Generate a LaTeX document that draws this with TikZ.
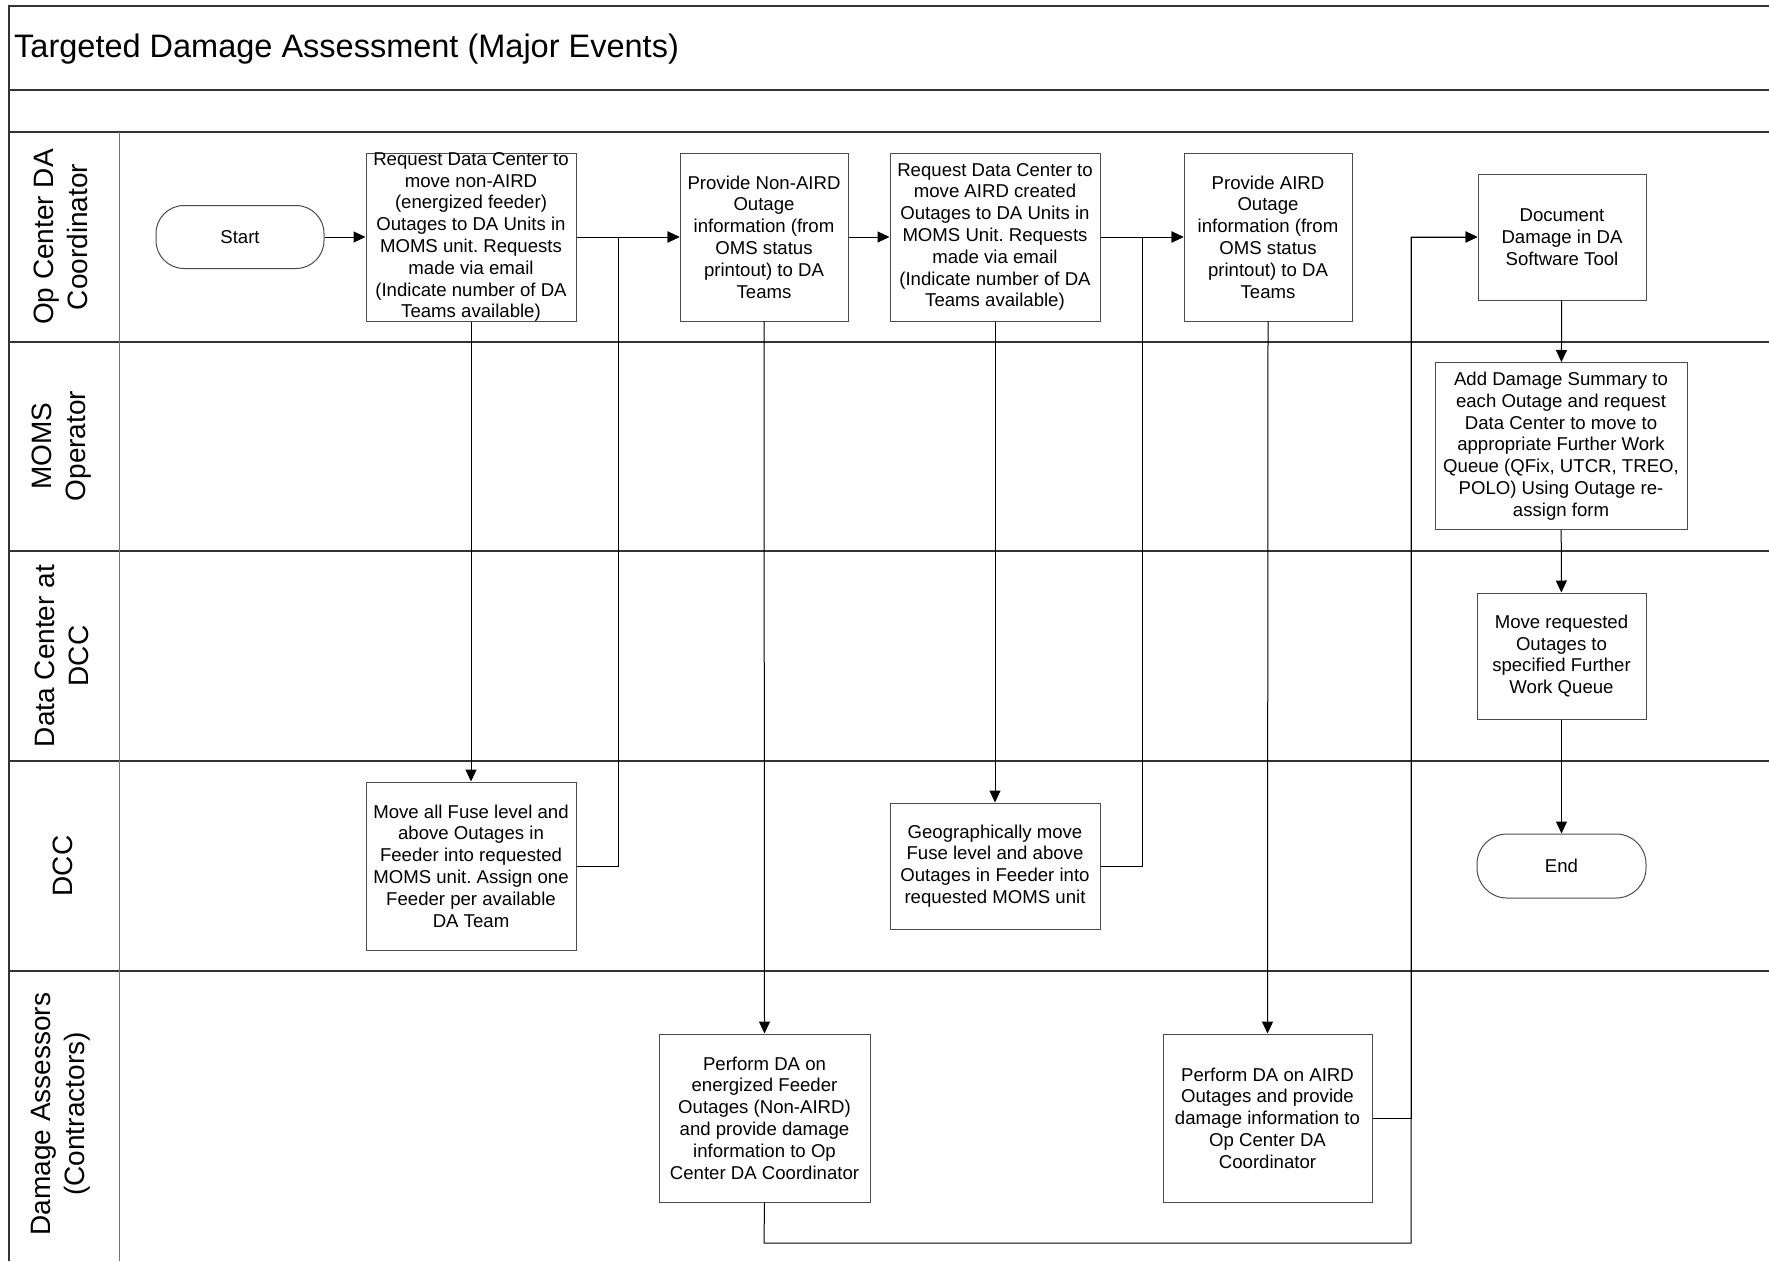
\documentclass[tikz,border=0pt]{standalone}
\usepackage{fontspec}
\setmainfont{Liberation Sans}
\usetikzlibrary{arrows.meta}
\frenchspacing
\begin{document}
\begin{tikzpicture}[x=1pt,y=-1pt,
  laneline/.style={line width=1.6pt, draw=black!80},
  divider/.style={line width=1pt, draw=black!55},
  box/.style={draw=black!70, line width=1pt, fill=white, inner sep=0pt, align=center,
    font=\fontsize{18.6}{21.8}\selectfont},
  boxtext/.style={align=center, inner sep=0pt, font=\fontsize{18.6}{21.8}\selectfont},
  term/.style={box, rounded corners=28pt},
  flow/.style={draw=black, line width=1pt, -{Triangle[length=12pt,width=11pt]}},
  link/.style={draw=black, line width=1pt},
  lanelabel/.style={rotate=90, align=center, inner sep=0pt,
    font=\fontsize{28}{34}\selectfont},
]
% canvas
\useasboundingbox (0,0) rectangle (1769,1261);
\fill[white] (0,0) rectangle (1769,1261);

% pool frame and swimlanes
\draw[laneline] (9,1261) -- (9,6) -- (1769,6);
\draw[laneline] (9,90) -- (1769,90);
\draw[laneline] (9,132) -- (1769,132);
\foreach \yy in {342,551,761,971}
  \draw[laneline] (9,\yy) -- (1769,\yy);
\draw[divider] (119,132) -- (119,1261);

% title
\node[anchor=west, inner sep=0pt, font=\fontsize{32.5}{38}\selectfont] (title) at (14,49)
  {Targeted Damage Assessment (Major Events)};

% lane labels
\node[lanelabel] (lane1) at (61,237) {Op Center DA\\Coordinator};
\node[lanelabel] (lane2) at (62,446) {MOMS\\Operator};
\node[lanelabel] (lane3) at (62,656) {Data Center at\\DCC};
\node[lanelabel] (lane4) at (63,866) {DCC};
\node[lanelabel] (lane5) at (61,1114) {Damage Assessors\\(Contractors)};

% process steps
\node[term, minimum width=168, minimum height=63] (start) at (240,237) {Start};

\node[box, minimum width=210, minimum height=168,
  label={[boxtext]center:{Request Data Center to\\move non-AIRD\\(energized feeder)\\Outages to DA Units in\\MOMS unit. Requests\\made via email\\(Indicate number of DA\\Teams available)}}]
  (reqnon) at (471,237) {};

\node[box, minimum width=168, minimum height=168] (provnon) at (764,237)
  {Provide Non-AIRD\\Outage\\information (from\\OMS status\\printout) to DA\\Teams};

\node[box, minimum width=210, minimum height=168] (reqaird) at (995,237)
  {Request Data Center to\\move AIRD created\\Outages to DA Units in\\MOMS Unit. Requests\\made via email\\(Indicate number of DA\\Teams available)};

\node[box, minimum width=168, minimum height=168] (provaird) at (1268,237)
  {Provide AIRD\\Outage\\information (from\\OMS status\\printout) to DA\\Teams};

\node[box, minimum width=168, minimum height=126] (document) at (1562,237)
  {Document\\Damage in DA\\Software Tool};

\node[box, minimum width=252, minimum height=167] (summary) at (1561,446)
  {Add Damage Summary to\\each Outage and request\\Data Center to move to\\appropriate Further Work\\Queue (QFix, UTCR, TREO,\\POLO) Using Outage re-\\assign form};

\node[box, minimum width=169, minimum height=126] (moveq) at (1561.5,656)
  {Move requested\\Outages to\\specified Further\\Work Queue};

\node[box, minimum width=210, minimum height=168] (movefuse) at (471,866)
  {Move all Fuse level and\\above Outages in\\Feeder into requested\\MOMS unit. Assign one\\Feeder per available\\DA Team};

\node[box, minimum width=210, minimum height=126] (geomove) at (995,866)
  {Geographically move\\Fuse level and above\\Outages in Feeder into\\requested MOMS unit};

\node[term, minimum width=169, minimum height=64, rounded corners=30pt] (end) at (1561.5,866) {End};

\node[box, minimum width=211, minimum height=168] (daenerg) at (764.5,1118)
  {Perform DA on\\energized Feeder\\Outages (Non-AIRD)\\and provide damage\\information to Op\\Center DA Coordinator};

\node[box, minimum width=209, minimum height=168] (daaird) at (1267.5,1118)
  {Perform DA on AIRD\\Outages and provide\\damage information to\\Op Center DA\\Coordinator};

% junction points of the routed connectors
\coordinate (j1low) at (618,866);
\coordinate (j1top) at (618,237);
\coordinate (j2low) at (1142,866);
\coordinate (j2top) at (1142,237);
\coordinate (r1) at (764,1243);
\coordinate (r2) at (1411,1243);
\coordinate (r3) at (1411,1118);
\coordinate (rtop) at (1411,237);

% connectors
\draw[flow] (start) -- (reqnon);
\draw[flow] (reqnon.south) -- (movefuse.north);
\draw[flow] (reqnon.east) -- (provnon.west);
\draw[flow] (movefuse.east) -- (j1low) -- (j1top) -- (provnon.west);
\draw[flow] (provnon.south) -- (daenerg.north);
\draw[flow] (provnon) -- (reqaird);
\draw[flow] (reqaird.south) -- (geomove.north);
\draw[flow] (reqaird.east) -- (provaird.west);
\draw[flow] (geomove.east) -- (j2low) -- (j2top) -- (provaird.west);
\draw[flow] (provaird.south) -- (daaird.north);
\draw[flow] (daenerg.south) -- (r1) -- (r2) -- (rtop) -- (document.west);
\draw[flow] (daaird.east) -- (r3) -- (rtop) -- (document.west);
\draw[flow] (document) -- (summary);
\draw[flow] (summary) -- (moveq);
\draw[flow] (moveq) -- (end);
\end{tikzpicture}
\end{document}
